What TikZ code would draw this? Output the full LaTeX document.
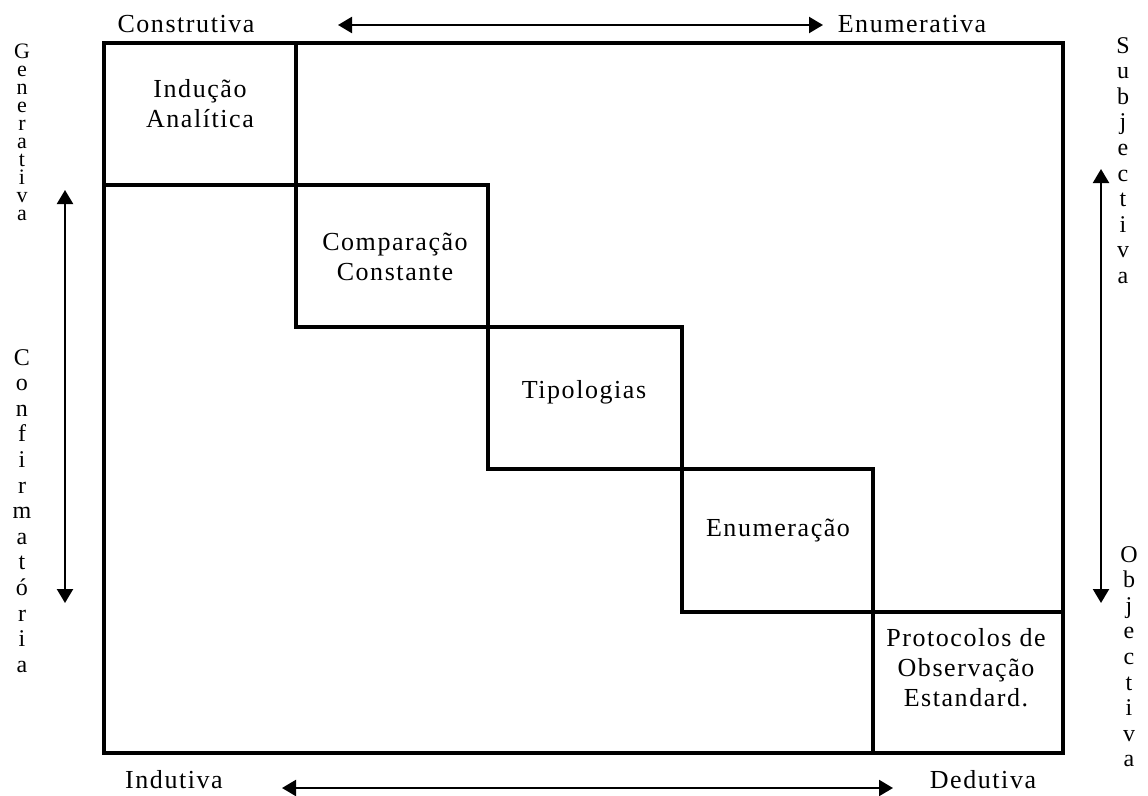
\documentclass[tikz,border=0pt]{standalone}
\usepackage{fontspec}
\setmainfont{Liberation Serif}[LetterSpace=6]
\usetikzlibrary{arrows.meta}
\begin{document}
\begin{tikzpicture}[x=1pt,y=-1pt,
  lbl/.style={inner sep=0pt, font=\fontsize{26}{30}\selectfont, align=center},
  vlet/.style={inner sep=0pt, anchor=base, font=\fontsize{24}{28}\selectfont},
  gvlet/.style={vlet, font=\fontsize{22}{26}\selectfont},
  frame/.style={line width=3.2pt, line cap=rect},
  arr/.style={line width=2.2pt, {Triangle[length=14pt,width=16pt]}-{Triangle[length=14pt,width=16pt]}}
]
\useasboundingbox (0,0) rectangle (1148,795);
% outer frame and staircase
\draw[frame] (104,43) rectangle (1063,753);
\draw[frame] (296,43) -- (296,327) -- (682,327) -- (682,612) -- (1063,612);
\draw[frame] (104,185) -- (488,185) -- (488,469) -- (873,469) -- (873,753);
% box labels
\node[lbl] (ind) at (200,104) {Indução\\Analítica};
\node[lbl] (comp) at (395,257) {Comparação\\Constante};
\node[lbl] (tip) at (584,392) {Tipologias};
\node[lbl] (enu) at (778,531) {Enumeração};
\node[lbl] (prot) at (966,668) {Protocolos de\\Observação\\Estandard.};
% axis labels
\node[lbl] (constr) at (186,24) {Construtiva};
\node[lbl] (enumv) at (912,24) {Enumerativa};
\node[lbl] (indut) at (174,780) {Indutiva};
\node[lbl] (dedut) at (983,780) {Dedutiva};
% arrows
\coordinate (ta) at (338,25); \coordinate (tb) at (823,25);
\coordinate (ba) at (282,788); \coordinate (bb) at (893,788);
\coordinate (la) at (65,190); \coordinate (lb) at (65,603);
\coordinate (ra) at (1101,169); \coordinate (rb) at (1101,603);
\draw[arr] (ta) -- (tb);
\draw[arr] (ba) -- (bb);
\draw[arr] (la) -- (lb);
\draw[arr] (ra) -- (rb);
% vertical words
\foreach \c [count=\i] in {G,e,n,e,r,a,t,i,v,a}
  \node[gvlet] (gen\i) at (22,58+18*\i-18) {\c};
\foreach \c [count=\i] in {C,o,n,f,i,r,m,a,t,ó,r,i,a}
  \node[vlet] (conf\i) at (22,365+25.6*\i-25.6) {\c};
\foreach \c [count=\i] in {S,u,b,j,e,c,t,i,v,a}
  \node[vlet] (subj\i) at (1123,53+25.6*\i-25.6) {\c};
\foreach \c [count=\i] in {O,b,j,e,c,t,i,v,a}
  \node[vlet] (obj\i) at (1129,562+25.6*\i-25.6) {\c};
\end{tikzpicture}
\end{document}
